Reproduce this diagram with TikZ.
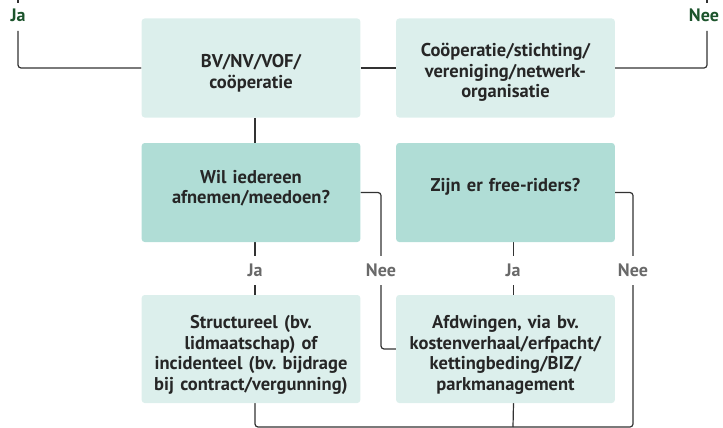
\documentclass[tikz,border=0pt]{standalone}
\usepackage{fontspec}
\setmainfont{PT Sans}
\usepackage{tikz}
\frenchspacing
\pgfdeclarelayer{edgelayer}
\pgfdeclarelayer{nodelayer}
\pgfsetlayers{edgelayer,nodelayer,main}
\definecolor{lightbox}{RGB}{220,239,236}
\definecolor{darkbox}{RGB}{176,221,214}
\definecolor{boxtext}{RGB}{38,38,38}
\definecolor{answergray}{RGB}{105,105,105}
\definecolor{outcomegreen}{RGB}{28,84,44}
\definecolor{wire}{RGB}{50,50,50}
\tikzstyle{none}=[inner sep=0pt]
\tikzstyle{choice}=[rectangle, rounded corners=3pt, fill=lightbox, minimum width=214pt, minimum height=99pt, text width=212pt, align=center, font=\bfseries\fontsize{18.5}{20.5}\selectfont, text=boxtext]
\tikzstyle{question}=[choice, fill=darkbox]
\tikzstyle{reply}=[inner sep=1pt, fill=white, minimum height=29pt, font=\bfseries\fontsize{18}{18}\selectfont, text=answergray]
\tikzstyle{link}=[draw=wire, line width=1.2pt, rounded corners=3pt]

\begin{document}
\begin{tikzpicture}[x=1pt, y=-1pt]
	\useasboundingbox (0, 0) rectangle (723, 428);
	\begin{pgfonlayer}{nodelayer}
		\node [style=choice] (0) at (251, 68) {BV/NV/VOF/\\coöperatie\par\vspace{-10pt}};
		\node [style=choice] (1) at (505.5, 68) {Coöperatie/stichting/\\vereniging/netwerk-\\organisatie\par\vspace{-9pt}};
		\node [style=question] (2) at (251, 192.5) {Wil iedereen\\afnemen/meedoen?\par\vspace{9pt}};
		\node [style=question] (3) at (505.5, 192.5) {Zijn er free-riders?\par\vspace{11pt}};
		\node [style=choice, minimum height=108pt] (4) at (251, 349) {Structureel (bv.\\lidmaatschap) of\\incidenteel (bv. bijdrage\\bij contract/vergunning)\par\vspace{-12pt}};
		\node [style=choice, minimum height=108pt] (5) at (505.5, 349) {Afdwingen, via bv.\\kostenverhaal/erfpacht/\\kettingbeding/BIZ/\\parkmanagement\par\vspace{-12pt}};
		\node [style=reply, text=outcomegreen, minimum height=0pt] (6) at (18, 15) {Ja};
		\node [style=reply, text=outcomegreen, minimum height=0pt] (7) at (704, 15) {Nee};
		\node [style=reply] (8) at (255, 270) {Ja};
		\node [style=reply] (9) at (381, 270) {Nee};
		\node [style=reply] (10) at (513, 270) {Ja};
		\node [style=reply] (11) at (633, 270) {Nee};
		\node [style=none] (12) at (18, 31) {};
		\node [style=none] (13) at (18, 0) {};
		\node [style=none] (14) at (18, 3) {};
		\node [style=none] (15) at (707, 31) {};
		\node [style=none] (16) at (707, 0) {};
		\node [style=none] (17) at (707, 3) {};
		\node [style=none] (18) at (255, 427) {};
		\node [style=none] (19) at (513, 427) {};
	\end{pgfonlayer}
	\begin{pgfonlayer}{edgelayer}
		\draw [style=link] (0.west) -| (12.center);
		\draw [style=link] (13.center) to (14.center);
		\draw [style=link] (0.east) to (1.west);
		\draw [style=link] (1.east) -| (15.center);
		\draw [style=link] (16.center) to (17.center);
		\draw [style=link] ([xshift=4pt]0.south) to ([xshift=4pt]2.north);
		\draw [style=link] ([xshift=4pt]2.south) to ([xshift=4pt]4.north);
		\draw [style=link] (2.east) -| (9.center) |- (5.west);
		\draw [style=link] ([xshift=8pt]3.south) to ([xshift=8pt]5.north);
		\draw [style=link] (3.east) -| (11.center) |- (18.center) -- ([xshift=4pt]4.south);
		\draw [style=link] ([xshift=8pt]5.south) to (19.center);
	\end{pgfonlayer}
\end{tikzpicture}
\end{document}
